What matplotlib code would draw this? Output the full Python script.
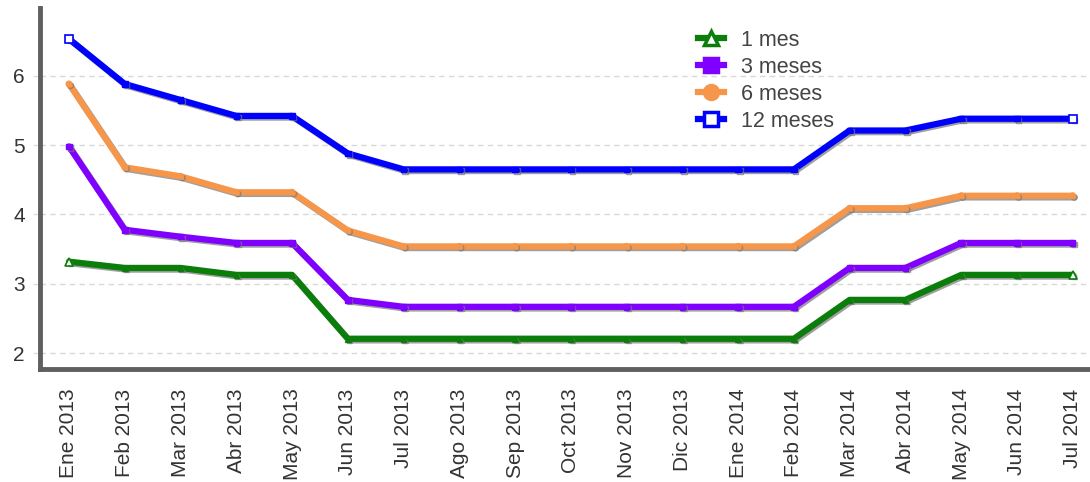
import matplotlib
matplotlib.use("Agg")
import matplotlib.pyplot as plt
import matplotlib.patheffects as pe

months = ["Ene 2013", "Feb 2013", "Mar 2013", "Abr 2013", "May 2013", "Jun 2013",
          "Jul 2013", "Ago 2013", "Sep 2013", "Oct 2013", "Nov 2013", "Dic 2013",
          "Ene 2014", "Feb 2014", "Mar 2014", "Abr 2014", "May 2014", "Jun 2014", "Jul 2014"]

mes1 = [3.32, 3.23, 3.23, 3.13, 3.13, 2.21, 2.21, 2.21, 2.21, 2.21, 2.21, 2.21,
        2.21, 2.21, 2.77, 2.77, 3.13, 3.13, 3.13]
meses3 = [4.98, 3.78, 3.68, 3.59, 3.59, 2.77, 2.67, 2.67, 2.67, 2.67, 2.67, 2.67,
          2.67, 2.67, 3.23, 3.23, 3.59, 3.59, 3.59]
meses6 = [5.88, 4.68, 4.55, 4.32, 4.32, 3.77, 3.54, 3.54, 3.54, 3.54, 3.54, 3.54,
          3.54, 3.54, 4.09, 4.09, 4.27, 4.27, 4.27]
meses12 = [6.53, 5.88, 5.65, 5.42, 5.42, 4.88, 4.65, 4.65, 4.65, 4.65, 4.65, 4.65,
           4.65, 4.65, 5.21, 5.21, 5.38, 5.38, 5.38]

series = [
    ("1 mes", mes1, "#0a7d0a", "^", True),
    ("3 meses", meses3, "#7f00ff", "s", False),
    ("6 meses", meses6, "#f5964a", "o", False),
    ("12 meses", meses12, "#0000ff", "s", True),
]

plt.rcParams['font.family'] = ['Liberation Sans', 'DejaVu Sans']

fig = plt.figure(figsize=(10.9, 4.82), dpi=100)
ax = fig.add_axes([40/1090, 1 - 369/482, 1 - 40/1090, (369 - 8)/482])

x = list(range(len(months)))
handles = []
for label, vals, color, marker, hollow in series:
    line, = ax.plot(x, vals, color=color, lw=4.5, marker=marker, ms=4,
                    mfc=color, mec=color, mew=1, solid_joinstyle='round',
                    solid_capstyle='round', zorder=3)
    line.set_path_effects([pe.SimpleLineShadow(offset=(1.2, -1.2), shadow_color="#777777", alpha=0.7),
                           pe.Normal()])
    if hollow:
        ax.plot([x[0], x[-1]], [vals[0], vals[-1]], ls='none', marker=marker, ms=6,
                mfc="white", mec=color, mew=1.2, zorder=4)
    h, = ax.plot([], [], color=color, lw=4.5, marker=marker, ms=10,
                 mfc="white" if hollow else color, mec=color, mew=2.5)
    handles.append(h)

ax.set_xlim(-0.52, 18.31)
ax.set_ylim(1.774, 6.975)
ax.set_yticks([2, 3, 4, 5, 6])
ax.set_xticks(x)
ax.set_xticklabels(months, rotation=90, fontsize=15, color="#333333")
ax.tick_params(axis='y', labelsize=15, colors="#333333", length=5, width=1,
               color="#dddddd", pad=6)
ax.tick_params(axis='x', length=0, pad=14)
ax.grid(axis='y', color="#d8d8d8", linestyle=(0, (4, 3)), lw=1)
ax.set_axisbelow(True)
for s in ["top", "right"]:
    ax.spines[s].set_visible(False)
for s in ["left", "bottom"]:
    ax.spines[s].set_color("#5f5f5f")
    ax.spines[s].set_linewidth(3.5)

leg = fig.legend(handles, [s[0] for s in series], loc="upper left",
                 bbox_to_anchor=(687/1090, 1 - 19/482), frameon=False,
                 fontsize=15.5, handlelength=1.2, handletextpad=0.8,
                 labelspacing=0.28, borderpad=0)
for t in leg.get_texts():
    t.set_color("#444444")

fig.savefig("out.png", dpi=100)
